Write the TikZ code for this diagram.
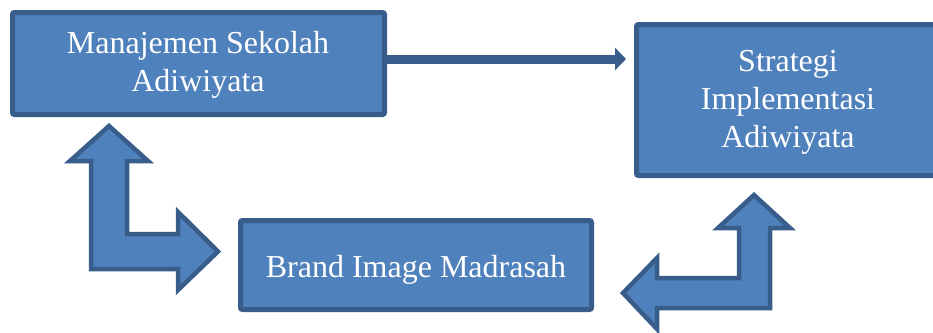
\documentclass[tikz,border=0pt]{standalone}
\usepackage{fontspec}
\setmainfont{Liberation Serif}
\usetikzlibrary{arrows.meta}
\definecolor{boxfill}{HTML}{4F81BD}
\definecolor{boxline}{HTML}{385D8A}
\tikzset{
  box/.style={draw=boxline, fill=boxfill, line width=5pt, rounded corners=2pt,
    inner sep=0pt, outer sep=0pt},
  txt/.style={text=white, inner sep=0pt, align=center,
    font=\fontsize{32}{38}\selectfont},
  bentarrow/.style={draw=boxline, fill=boxfill, line width=4.5pt, line join=miter},
  link/.style={draw=boxline, line width=9pt,
    -{Triangle[length=11pt,width=22pt]}}
}
\begin{document}
\begin{tikzpicture}[x=1pt,y=-1pt]
\useasboundingbox (0,0) rectangle (933,332);
% boxes
\node[box, minimum width=372pt, minimum height=102pt] (b1) at (198.5,63.5) {};
\node[box, minimum width=303.5pt, minimum height=151pt] (b2) at (788.25,100) {};
\node[box, minimum width=351pt, minimum height=89pt] (b3) at (416,265) {};
% texts
\node[txt] (t1) at (198,64.6) {Manajemen Sekolah\\Adiwiyata};
\node[txt] (t2) at (788,102.7) {Strategi\\Implementasi\\Adiwiyata};
\node[txt] (t3) at (416,269.5) {Brand Image Madrasah};
% straight connector
\coordinate (s1) at (386,59);
\coordinate (s2) at (626,59);
\draw[link] (s1) -- (s2);
% bent arrows
\draw[bentarrow] (109,126) -- (148,161) -- (127,161) -- (127,234) -- (178,234)
  -- (178,212) -- (218,251.5) -- (178,290) -- (178,269) -- (91,269) -- (91,161)
  -- (70,161) -- cycle;
\draw[bentarrow] (754,195) -- (790,228) -- (770,228) -- (770,308) -- (657,308)
  -- (657,329) -- (623,293) -- (657,258) -- (657,278) -- (739,278) -- (739,228)
  -- (718,228) -- cycle;
\end{tikzpicture}
\end{document}
